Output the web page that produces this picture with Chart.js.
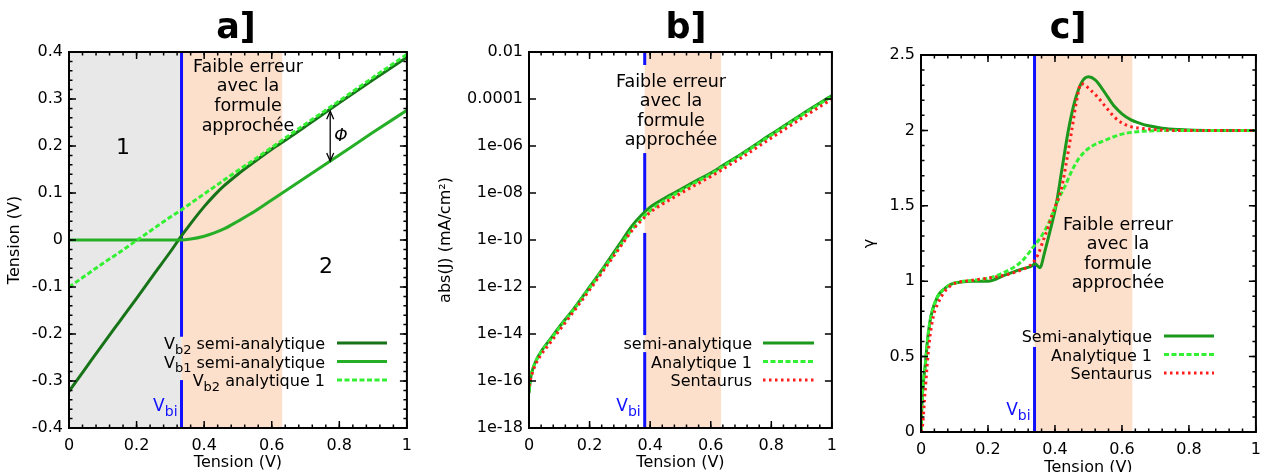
<!DOCTYPE html>
<html>
<head>
<meta charset="utf-8">
<script src="https://cdn.jsdelivr.net/npm/chart.js@4.4.1/dist/chart.umd.min.js"></script>
<style>
  html, body { margin: 0; padding: 0; background: #fff; }
  #wrap { position: relative; width: 1269px; height: 472px; overflow: hidden; }
  .panel { position: absolute; top: 0; }
</style>
</head>
<body>
<div id="wrap">
  <div class="panel" style="left:0"><canvas id="ca" width="420" height="472"></canvas></div>
  <div class="panel" style="left:425px"><canvas id="cb" width="420" height="472"></canvas></div>
  <div class="panel" style="left:850px"><canvas id="cc" width="419" height="472"></canvas></div>
</div>
<script>
// ── Data ───────────────────────────────────────────────────
const xTicks = [0, 0.2, 0.4, 0.6, 0.8, 1];
const xTickLabels = ['0', '0.2', '0.4', '0.6', '0.8', '1'];

// panel a : band voltages
const aYTicks = [-0.4, -0.3, -0.2, -0.1, 0, 0.1, 0.2, 0.3, 0.4];
const aYTickLabels = ['-0.4', '-0.3', '-0.2', '-0.1', '0', '0.1', '0.2', '0.3', '0.4'];
const aX       = [0, 0.05, 0.1, 0.15, 0.2, 0.25, 0.3, 0.33, 0.36, 0.4, 0.43, 0.46, 0.5, 0.55, 0.6, 0.65, 0.7, 0.8, 0.9, 1.0];
const aVb2Semi = [-0.322, -0.272, -0.222, -0.173, -0.124, -0.074, -0.025, 0.006, 0.035, 0.071, 0.095, 0.116, 0.14, 0.167, 0.193, 0.217, 0.242, 0.292, 0.341, 0.389];
const aVb1Semi = [0, 0, 0, 0, 0, 0, 0, 0, 0.002, 0.008, 0.015, 0.024, 0.04, 0.061, 0.085, 0.109, 0.133, 0.181, 0.229, 0.276];
const aVb2Ana  = [-0.1, -0.075, -0.05, -0.026, -0.001, 0.024, 0.049, 0.063, 0.078, 0.098, 0.113, 0.128, 0.148, 0.172, 0.197, 0.222, 0.247, 0.296, 0.346, 0.395];

// panel b : current density (log)
const bYTicks = [1e-18, 1e-16, 1e-14, 1e-12, 1e-10, 1e-8, 1e-6, 1e-4, 1e-2];
const bYTickLabels = ['1e-18', '1e-16', '1e-14', '1e-12', '1e-10', '1e-08', '1e-06', '0.0001', '0.01'];
const bX        = [0, 0.005, 0.01, 0.02, 0.04, 0.07, 0.1, 0.15, 0.2, 0.25, 0.3, 0.34, 0.37, 0.4, 0.45, 0.5, 0.55, 0.6, 0.65, 0.7, 0.8, 0.9, 1.0];
const bSemi     = [3e-17, 1.2e-16, 2.5e-16, 6e-16, 1.8e-15, 6e-15, 2e-14, 1.3e-13, 1e-12, 8e-12, 7e-11, 4e-10, 1.1e-9, 2.5e-9, 6.3e-9, 1.4e-8, 3.2e-8, 7e-8, 1.8e-7, 4.5e-7, 3.2e-6, 2.2e-5, 1.4e-4];
const bAna      = [4e-17, 1.3e-16, 2.6e-16, 6e-16, 1.7e-15, 5.5e-15, 1.8e-14, 1.2e-13, 9e-13, 7e-12, 5.5e-11, 2.8e-10, 7.5e-10, 1.8e-9, 5e-9, 1.2e-8, 2.8e-8, 6.3e-8, 1.6e-7, 4.1e-7, 2.9e-6, 2e-5, 1.3e-4];
const bSentaurus = [6e-17, 1.2e-16, 2e-16, 4.5e-16, 1.3e-15, 4.2e-15, 1.4e-14, 1e-13, 7.5e-13, 6e-12, 4.8e-11, 2.5e-10, 6.5e-10, 1.5e-9, 4e-9, 9.5e-9, 2.2e-8, 5e-8, 1.25e-7, 3.1e-7, 2.2e-6, 1.5e-5, 1e-4];

// panel c : ideality factor gamma
const cYTicks = [0, 0.5, 1, 1.5, 2, 2.5];
const cYTickLabels = ['0', '0.5', '1', '1.5', '2', '2.5'];
const cSemiX = [0, 0.003, 0.008, 0.013, 0.02, 0.03, 0.05, 0.07, 0.09, 0.12, 0.15, 0.2, 0.25, 0.3, 0.33, 0.34, 0.355, 0.37, 0.385, 0.403, 0.42, 0.44, 0.46, 0.48, 0.5, 0.52, 0.538, 0.558, 0.578, 0.6, 0.627, 0.65, 0.676, 0.72, 0.774, 0.85, 1.0];
const cSemiY = [0, 0.2, 0.35, 0.45, 0.62, 0.77, 0.9, 0.95, 0.98, 0.995, 1.0, 1.0, 1.04, 1.08, 1.1, 1.115, 1.09, 1.2, 1.33, 1.5, 1.73, 2.0, 2.2, 2.32, 2.355, 2.335, 2.286, 2.22, 2.158, 2.11, 2.07, 2.05, 2.032, 2.015, 2.006, 2.0, 2.0];
const cAnaX  = [0, 0.003, 0.008, 0.013, 0.02, 0.03, 0.05, 0.07, 0.09, 0.12, 0.15, 0.2, 0.25, 0.3, 0.333, 0.36, 0.38, 0.41, 0.43, 0.45, 0.47, 0.5, 0.55, 0.6, 0.65, 0.7, 0.8, 1.0];
const cAnaY  = [0, 0.2, 0.35, 0.45, 0.62, 0.77, 0.9, 0.95, 0.98, 0.997, 1.005, 1.02, 1.06, 1.13, 1.22, 1.3, 1.38, 1.54, 1.63, 1.73, 1.81, 1.88, 1.935, 1.975, 1.992, 1.998, 2.0, 2.0];
const cSentX = [0, 0.005, 0.01, 0.018, 0.025, 0.037, 0.05, 0.067, 0.08, 0.1, 0.15, 0.2, 0.25, 0.3, 0.333, 0.35, 0.365, 0.38, 0.39, 0.41, 0.42, 0.435, 0.45, 0.465, 0.478, 0.49, 0.5, 0.528, 0.55, 0.577, 0.6, 0.626, 0.676, 0.75, 1.0];
const cSentY = [0, 0.05, 0.2, 0.43, 0.6, 0.77, 0.85, 0.92, 0.955, 0.985, 1.005, 1.02, 1.04, 1.075, 1.12, 1.18, 1.27, 1.36, 1.43, 1.55, 1.62, 1.8, 2.0, 2.2, 2.31, 2.3, 2.28, 2.22, 2.16, 2.09, 2.05, 2.025, 2.01, 2.0, 2.0];

// built-in voltage and shaded ranges
const aVbi = 0.333, bVbi = 0.382, cVbi = 0.339;
const aShadeEnd = 0.631, bShadeEnd = 0.634, cShadeEnd = 0.631;

// ── Styles ─────────────────────────────────────────────────
const FONT = 'DejaVu Sans';
const DARK = '#177317', MID = '#27ae27', SEMI = '#1c981c', LIGHT = '#33f033', RED = '#ff1c1c';
const BLUE = '#1010ff', PEACH = '#fde0cc', GREY = '#e8e8e8';

Chart.defaults.font.family = FONT;
Chart.defaults.color = '#000';

const pts = (xs, ys) => xs.map((x, i) => ({ x, y: ys[i] }));
const solid = (label, xs, ys, color, order) =>
  ({ label, data: pts(xs, ys), borderColor: color, borderWidth: 3, order, cubicInterpolationMode: 'monotone' });
const dashed = (label, xs, ys, order) =>
  ({ label, data: pts(xs, ys), borderColor: LIGHT, borderWidth: 3, borderDash: [5, 2.5], order, cubicInterpolationMode: 'monotone' });
const dotted = (label, xs, ys, order) =>
  ({ label, data: pts(xs, ys), borderColor: RED, borderWidth: 3, borderDash: [2.5, 3.5], order, cubicInterpolationMode: 'monotone' });

// ── Text helpers ───────────────────────────────────────────
function richText(ctx, parts, x, y, align, size) {
  const big = `${size}px ${FONT}`, small = `${Math.round(size * 0.8)}px ${FONT}`;
  let w = 0;
  for (const [t, sub] of parts) { ctx.font = sub ? small : big; w += ctx.measureText(t).width; }
  let cx = align === 'right' ? x - w : align === 'center' ? x - w / 2 : x;
  ctx.textAlign = 'left';
  ctx.textBaseline = 'alphabetic';
  for (const [t, sub] of parts) {
    ctx.font = sub ? small : big;
    ctx.fillText(t, cx, sub ? y + size * 0.3 : y);
    cx += ctx.measureText(t).width;
  }
}

function minorTicks(lo, hi, step) {
  const out = [];
  for (let v = lo; v <= hi + 1e-9; v += step) out.push(+v.toFixed(6));
  return out;
}

// ── Decoration plugin (shading, Vbi line, frame, texts, legend) ──
const decor = {};
const decorPlugin = {
  id: 'decor',
  beforeDatasetsDraw(chart) {
    const d = decor[chart.canvas.id];
    const { ctx, chartArea: a, scales: { x, y } } = chart;
    ctx.save();
    for (const [x0, x1, col] of d.shades) {
      const p0 = x.getPixelForValue(x0), p1 = x.getPixelForValue(x1);
      ctx.fillStyle = col;
      ctx.fillRect(p0, a.top, p1 - p0, a.bottom - a.top);
    }
    const px = x.getPixelForValue(d.vbi);
    ctx.strokeStyle = BLUE;
    ctx.lineWidth = 3;
    for (const [v0, v1] of d.vbiSegs) {
      ctx.beginPath();
      ctx.moveTo(px, y.getPixelForValue(v0));
      ctx.lineTo(px, y.getPixelForValue(v1));
      ctx.stroke();
    }
    ctx.restore();
  },
  afterDatasetsDraw(chart) {
    const d = decor[chart.canvas.id];
    const { ctx, chartArea: a, scales: { x, y } } = chart;
    ctx.save();
    // frame
    ctx.strokeStyle = '#000';
    ctx.lineWidth = 2;
    ctx.strokeRect(a.left, a.top, a.right - a.left, a.bottom - a.top);
    // inward ticks, mirrored
    ctx.lineWidth = 1.5;
    const tick = (p, len, horiz) => {
      ctx.beginPath();
      if (horiz) {
        ctx.moveTo(p, a.bottom); ctx.lineTo(p, a.bottom - len);
        ctx.moveTo(p, a.top); ctx.lineTo(p, a.top + len);
      } else {
        ctx.moveTo(a.left, p); ctx.lineTo(a.left + len, p);
        ctx.moveTo(a.right, p); ctx.lineTo(a.right - len, p);
      }
      ctx.stroke();
    };
    d.xMinor.forEach(v => tick(x.getPixelForValue(v), 3.5, true));
    xTicks.forEach(v => tick(x.getPixelForValue(v), 7, true));
    d.yMinor.forEach(v => tick(y.getPixelForValue(v), 3.5, false));
    d.yTicks.forEach(v => tick(y.getPixelForValue(v), 7, false));

    // panel title
    ctx.fillStyle = '#000';
    ctx.font = `bold 35px ${FONT}`;
    ctx.textAlign = 'center';
    ctx.textBaseline = 'alphabetic';
    ctx.fillText(d.title, d.titleX, 38);

    // annotation block
    ctx.font = `17.5px ${FONT}`;
    ctx.textBaseline = 'middle';
    d.note.lines.forEach((t, i) => ctx.fillText(t, a.left + d.note.cx, a.top + d.note.y0 + i * d.note.dy));

    // extra labels
    (d.labels || []).forEach(l => {
      ctx.font = `${l.size}px ${FONT}`;
      ctx.fillText(l.text, a.left + l.dx, a.top + l.dy);
    });

    // Vbi label
    ctx.fillStyle = BLUE;
    richText(ctx, [['V', false], ['bi', true]], x.getPixelForValue(d.vbi) - 4, a.bottom - 17, 'right', 17);

    // legend
    ctx.fillStyle = '#000';
    d.legend.rows.forEach((row, i) => {
      const ds = chart.data.datasets[row.ds];
      const yc = a.top + d.legend.y0 + i * d.legend.dy;
      richText(ctx, row.parts, a.left + d.legend.textRight, yc + 6, 'right', 16);
      ctx.beginPath();
      ctx.setLineDash(ds.borderDash || []);
      ctx.strokeStyle = ds.borderColor;
      ctx.lineWidth = ds.borderWidth;
      ctx.moveTo(a.left + d.legend.x0, yc);
      ctx.lineTo(a.left + d.legend.x1, yc);
      ctx.stroke();
    });
    ctx.setLineDash([]);

    // phi arrow (panel a only)
    if (d.arrow) {
      const ax = x.getPixelForValue(d.arrow.x);
      const y0 = y.getPixelForValue(d.arrow.top), y1 = y.getPixelForValue(d.arrow.bottom);
      ctx.strokeStyle = '#000';
      ctx.fillStyle = '#000';
      ctx.lineWidth = 1.3;
      ctx.beginPath(); ctx.moveTo(ax, y0 + 2); ctx.lineTo(ax, y1 - 2); ctx.stroke();
      ctx.beginPath(); ctx.moveTo(ax - 3.5, y0 + 8); ctx.lineTo(ax, y0); ctx.lineTo(ax + 3.5, y0 + 8); ctx.stroke();
      ctx.beginPath(); ctx.moveTo(ax - 3.5, y1 - 8); ctx.lineTo(ax, y1); ctx.lineTo(ax + 3.5, y1 - 8); ctx.stroke();
      ctx.font = `italic 17px ${FONT}`;
      ctx.textAlign = 'left';
      ctx.textBaseline = 'middle';
      ctx.fillText('Φ', ax + 4, (y0 + y1) / 2);
    }
    ctx.restore();
  }
};

function makeChart(id, cfg) {
  decor[id] = cfg.decor;
  return new Chart(document.getElementById(id), {
    type: 'line',
    data: { datasets: cfg.datasets },
    options: {
      responsive: false,
      animation: false,
      events: [],
      layout: { padding: cfg.padding },
      elements: { point: { radius: 0 } },
      plugins: { legend: { display: false }, tooltip: { enabled: false } },
      scales: {
        x: {
          type: 'linear', min: 0, max: 1,
          grid: { display: false, drawTicks: false },
          border: { display: false },
          afterBuildTicks: s => { s.ticks = xTicks.map(v => ({ value: v })); },
          afterFit: s => { s.height = cfg.xHeight; },
          ticks: { font: { size: 16 }, padding: 8, maxRotation: 0, autoSkip: false,
                   callback: (v, i) => xTickLabels[i] },
          title: { display: true, text: 'Tension (V)', font: { size: 16 },
                   padding: { top: 0, bottom: cfg.xTitlePad } }
        },
        y: {
          type: cfg.yType, min: cfg.yMin, max: cfg.yMax,
          grid: { display: false, drawTicks: false },
          border: { display: false },
          afterBuildTicks: s => { s.ticks = cfg.yTicks.map(v => ({ value: v })); },
          afterFit: s => { s.width = cfg.yWidth; },
          ticks: { font: { size: 16 }, padding: 6, autoSkip: false,
                   callback: (v, i) => cfg.yTickLabels[i] },
          title: { display: true, text: cfg.yTitle, font: { size: 16 },
                   padding: { top: cfg.yTitlePad, bottom: 0 } }
        }
      }
    },
    plugins: [decorPlugin]
  });
}

// ── Panel a ────────────────────────────────────────────────
makeChart('ca', {
  datasets: [
    solid('Vb2 semi-analytique', aX, aVb2Semi, DARK, 3),
    solid('Vb1 semi-analytique', aX, aVb1Semi, MID, 2),
    dashed('Vb2 analytique 1', aX, aVb2Ana, 1)
  ],
  padding: { top: 52, right: 12, left: 0, bottom: 0 },
  xHeight: 44, yWidth: 69, xTitlePad: 0, yTitlePad: 5,
  yType: 'linear', yMin: -0.4, yMax: 0.4, yTicks: aYTicks, yTickLabels: aYTickLabels,
  yTitle: 'Tension (V)',
  decor: {
    title: 'a]', titleX: 236,
    shades: [[0, aVbi, GREY], [aVbi, aShadeEnd, PEACH]],
    vbi: aVbi, vbiSegs: [[-0.4, -0.298], [-0.206, 0.4]],
    xMinor: minorTicks(0, 1, 0.04), yMinor: minorTicks(-0.4, 0.4, 0.02), yTicks: aYTicks,
    note: { lines: ['Faible erreur', 'avec la', 'formule', 'approchée'], cx: 179, y0: 15, dy: 19.7 },
    labels: [{ text: '1', dx: 54, dy: 96, size: 22 }, { text: '2', dx: 257, dy: 215, size: 22 }],
    arrow: { x: 0.773, top: 0.274, bottom: 0.168 },
    legend: {
      textRight: 256, x0: 268, x1: 318, y0: 291, dy: 18.5,
      rows: [
        { ds: 0, parts: [['V', false], ['b2', true], [' semi-analytique', false]] },
        { ds: 1, parts: [['V', false], ['b1', true], [' semi-analytique', false]] },
        { ds: 2, parts: [['V', false], ['b2', true], [' analytique 1', false]] }
      ]
    }
  }
});

// ── Panel b ────────────────────────────────────────────────
makeChart('cb', {
  datasets: [
    solid('semi-analytique', bX, bSemi, SEMI, 3),
    dashed('Analytique 1', bX, bAna, 2),
    dotted('Sentaurus', bX, bSentaurus, 1)
  ],
  padding: { top: 52, right: 10, left: 0, bottom: 0 },
  xHeight: 44, yWidth: 104, xTitlePad: 0, yTitlePad: 11,
  yType: 'logarithmic', yMin: 1e-18, yMax: 1e-2, yTicks: bYTicks, yTickLabels: bYTickLabels,
  yTitle: 'abs(J) (mA/cm²)',
  decor: {
    title: 'b]', titleX: 261,
    shades: [[bVbi, bShadeEnd, PEACH]],
    vbi: bVbi, vbiSegs: [[1e-18, 1.7e-15], [9e-15, 2e-10], [1.55e-9, 5e-7], [2.8e-3, 1e-2]],
    xMinor: minorTicks(0, 1, 0.04), yMinor: [], yTicks: bYTicks,
    note: { lines: ['Faible erreur', 'avec la', 'formule', 'approchée'], cx: 142, y0: 30, dy: 19.5 },
    legend: {
      textRight: 223, x0: 234, x1: 285, y0: 291, dy: 18.5,
      rows: [
        { ds: 0, parts: [['semi-analytique', false]] },
        { ds: 1, parts: [['Analytique 1', false]] },
        { ds: 2, parts: [['Sentaurus', false]] }
      ]
    }
  }
});

// ── Panel c ────────────────────────────────────────────────
makeChart('cc', {
  datasets: [
    solid('Semi-analytique', cSemiX, cSemiY, SEMI, 3),
    dashed('Analytique 1', cAnaX, cAnaY, 2),
    dotted('Sentaurus', cSentX, cSentY, 1)
  ],
  padding: { top: 55, right: 9, left: 0, bottom: 0 },
  xHeight: 40, yWidth: 71, xTitlePad: -5, yTitlePad: 10,
  yType: 'linear', yMin: 0, yMax: 2.5, yTicks: cYTicks, yTickLabels: cYTickLabels,
  yTitle: 'γ',
  decor: {
    title: 'c]', titleX: 218,
    shades: [[cVbi, cShadeEnd, PEACH]],
    vbi: cVbi, vbiSegs: [[0, 0.564], [0.657, 2.5]],
    xMinor: minorTicks(0, 1, 0.04), yMinor: minorTicks(0, 2.5, 0.1), yTicks: cYTicks,
    note: { lines: ['Faible erreur', 'avec la', 'formule', 'approchée'], cx: 197, y0: 170, dy: 19.6 },
    legend: {
      textRight: 231, x0: 243, x1: 293, y0: 281, dy: 18.5,
      rows: [
        { ds: 0, parts: [['Semi-analytique', false]] },
        { ds: 1, parts: [['Analytique 1', false]] },
        { ds: 2, parts: [['Sentaurus', false]] }
      ]
    }
  }
});
</script>
</body>
</html>
